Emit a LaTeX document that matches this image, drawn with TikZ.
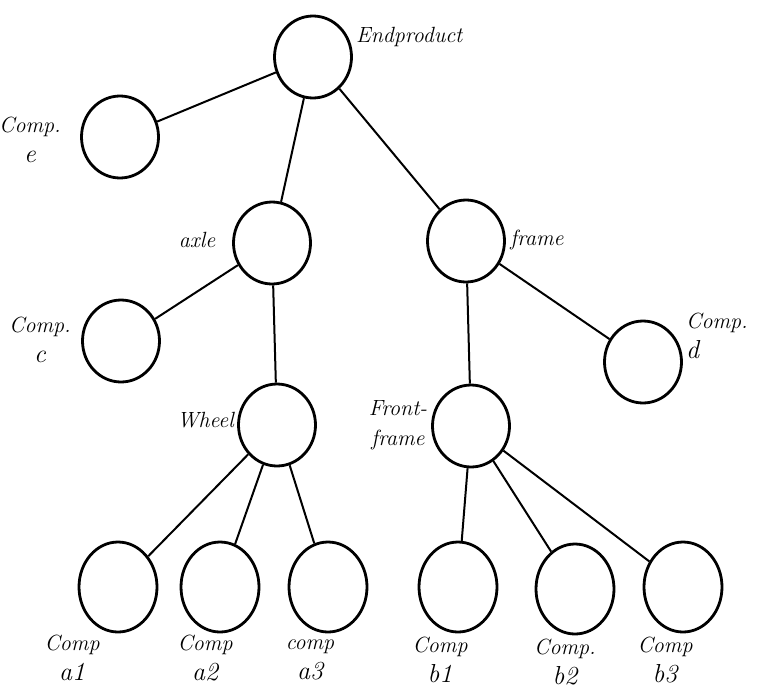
\documentclass[tikz,border=0pt]{standalone}
\usetikzlibrary{shapes.geometric}
\newcommand{\bigline}[1]{{\fontsize{26}{30}\selectfont #1}}
\begin{document}
\begin{tikzpicture}[x=1pt,y=-1pt,
  part/.style={ellipse,draw,line width=2.8pt,minimum width=77pt,minimum height=82pt,inner sep=0pt},
  leaf/.style={part,minimum width=78pt,minimum height=90pt},
  link/.style={line width=2pt},
  lbl/.style={font=\fontsize{22}{30}\selectfont\itshape,inner sep=0pt,align=center}]
\useasboundingbox (0,0) rectangle (766,691);
% assembly tree
\node[part] (ep) at (313,57) {};
\node[part] (ce) at (120,137) {};
\node[part] (axle) at (272,243) {};
\node[part] (frame) at (466,241) {};
\node[part] (cc) at (121,341) {};
\node[part] (cd) at (643,362) {};
\node[part] (wheel) at (277,425) {};
\node[part] (ff) at (471,426) {};
\node[leaf] (a1) at (118,587) {};
\node[leaf] (a2) at (220,587) {};
\node[leaf] (a3) at (328,587) {};
\node[leaf] (b1) at (458,587) {};
\node[leaf] (b2) at (575,589) {};
\node[leaf] (b3) at (683,587) {};
% connections
\draw[link] (ep) -- (ce);
\draw[link] (ep) -- (axle);
\draw[link] (ep) -- (frame);
\draw[link] (axle) -- (cc);
\draw[link] (axle) -- (wheel);
\draw[link] (frame) -- (ff);
\draw[link] (frame) -- (cd);
\draw[link] (wheel) -- (a1);
\draw[link] (wheel) -- (a2);
\draw[link] (wheel) -- (a3);
\draw[link] (ff) -- (b1);
\draw[link] (ff) -- (b2);
\draw[link] (ff) -- (b3);
% labels
\node[lbl,anchor=west] (lep) at (356,37) {Endproduct};
\node[lbl] (lce) at (30,140) {Comp.\\\bigline{e}};
\node[lbl] (laxle) at (197,240) {axle};
\node[lbl] (lframe) at (537,240) {frame};
\node[lbl] (lcc) at (40,340) {Comp.\\\bigline{c}};
\node[lbl,align=left,anchor=west] (lcd) at (686,336) {Comp.\\\bigline{d}};
\node[lbl,anchor=east] (lwheel) at (234,420) {Wheel};
\node[lbl] (lff) at (398,425) {Front-\\frame};
\node[lbl] (la1) at (72,658) {Comp\\\bigline{a1}};
\node[lbl] (la2) at (205,658) {Comp\\\bigline{a2}};
\node[lbl] (la3) at (310,660) {comp\\\bigline{a3}};
\node[lbl] (lb1) at (440,660) {Comp\\\bigline{b1}};
\node[lbl] (lb2) at (565,662) {Comp.\\\bigline{b2}};
\node[lbl] (lb3) at (665,660) {Comp\\\bigline{b3}};
\end{tikzpicture}
\end{document}
